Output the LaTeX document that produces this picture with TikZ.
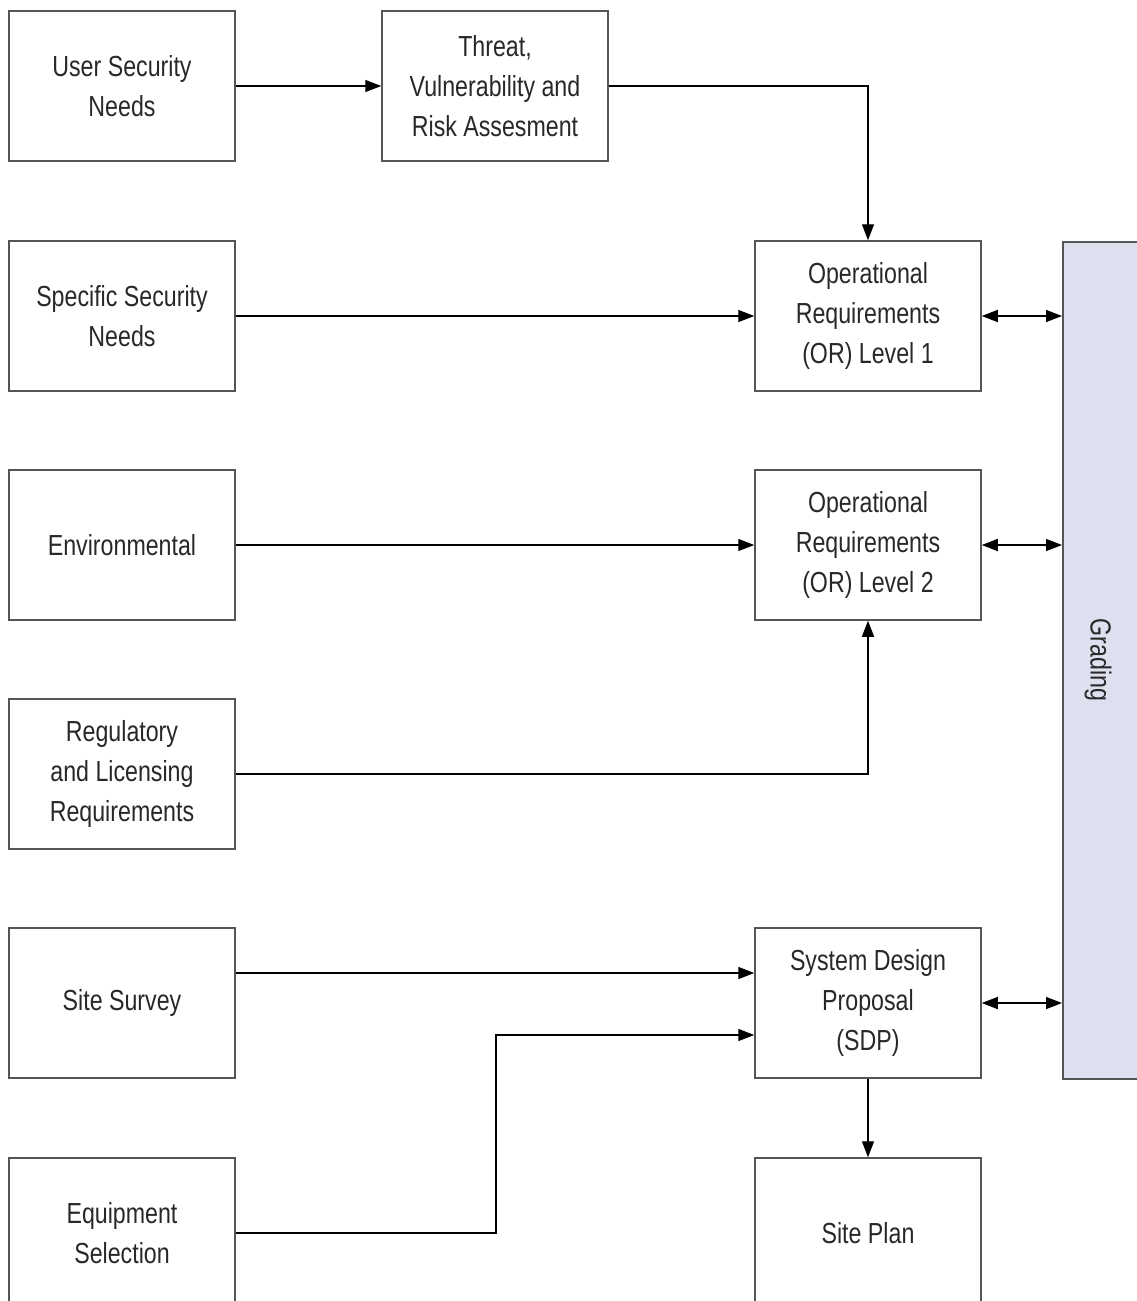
\documentclass[tikz,border=0pt]{standalone}
\usepackage{fontspec}
\setmainfont{Liberation Sans}[FakeStretch=0.8]
\usetikzlibrary{arrows.meta,positioning}
\definecolor{boxline}{RGB}{85,85,85}
\definecolor{txt}{RGB}{40,40,40}
\definecolor{gradfill}{RGB}{223,224,239}
\tikzset{
  box/.style={draw=boxline, line width=1.5pt, minimum width=226pt, minimum height=150pt,
    inner sep=0pt, align=center, text=txt, font=\fontsize{29}{40}\selectfont},
  conn/.style={line width=1.4pt, draw=black, -{Triangle[length=16pt,width=12pt]}},
  biconn/.style={line width=1.4pt, draw=black, {Triangle[length=16pt,width=12pt]}-{Triangle[length=16pt,width=12pt]}}
}
\begin{document}
\begin{tikzpicture}[x=1pt,y=-1pt]
\useasboundingbox (0,0) rectangle (1137,1301);
\clip (0,0) rectangle (1137,1301);
% left column
\node[box] (user) at (122,86) {User Security\\Needs};
\node[box] (spec) at (122,316) {Specific Security\\Needs};
\node[box] (env) at (122,545) {Environmental};
\node[box] (reg) at (122,774) {Regulatory\\and Licensing\\Requirements};
\node[box] (survey) at (122,1003) {Site Survey};
\node[box] (equip) at (122,1233) {Equipment\\Selection};
% middle / right
\node[box] (threat) at (495,86) {Threat,\\Vulnerability and\\Risk Assesment};
\node[box] (or1) at (868,316) {Operational\\Requirements\\(OR) Level 1};
\node[box] (or2) at (868,545) {Operational\\Requirements\\(OR) Level 2};
\node[box] (sdp) at (868,1003) {System Design\\Proposal\\(SDP)};
\node[box] (plan) at (868,1233) {Site Plan};
% grading
\node[draw=boxline, line width=1.5pt, fill=gradfill, inner sep=0pt,
      minimum width=100pt, minimum height=837pt, anchor=north west] (grading) at (1062,241) {};
\node[rotate=-90, text=txt, font=\fontsize{29}{40}\selectfont] (gradlabel) at (1098,660) {Grading};
% connectors
\draw[conn] (user.east) -- (threat.west);
\draw[conn] (threat.east) -| (or1.north);
\draw[conn] (spec.east) -- (or1.west);
\draw[conn] (env.east) -- (or2.west);
\draw[conn] (reg.east) -| (or2.south);
\coordinate (sdpin1) at ([yshift=30pt]sdp.west);
\coordinate (sdpin2) at ([yshift=-32pt]sdp.west);
\draw[conn] (survey.east |- sdpin1) -- (sdpin1);
\coordinate (bend) at (496,1233);
\draw[conn] (equip.east) -- (bend) |- (sdpin2);
\draw[conn] (sdp.south) -- (plan.north);
\draw[biconn] (or1.east) -- (or1.east -| grading.west);
\draw[biconn] (or2.east) -- (or2.east -| grading.west);
\draw[biconn] (sdp.east) -- (sdp.east -| grading.west);
\end{tikzpicture}
\end{document}
